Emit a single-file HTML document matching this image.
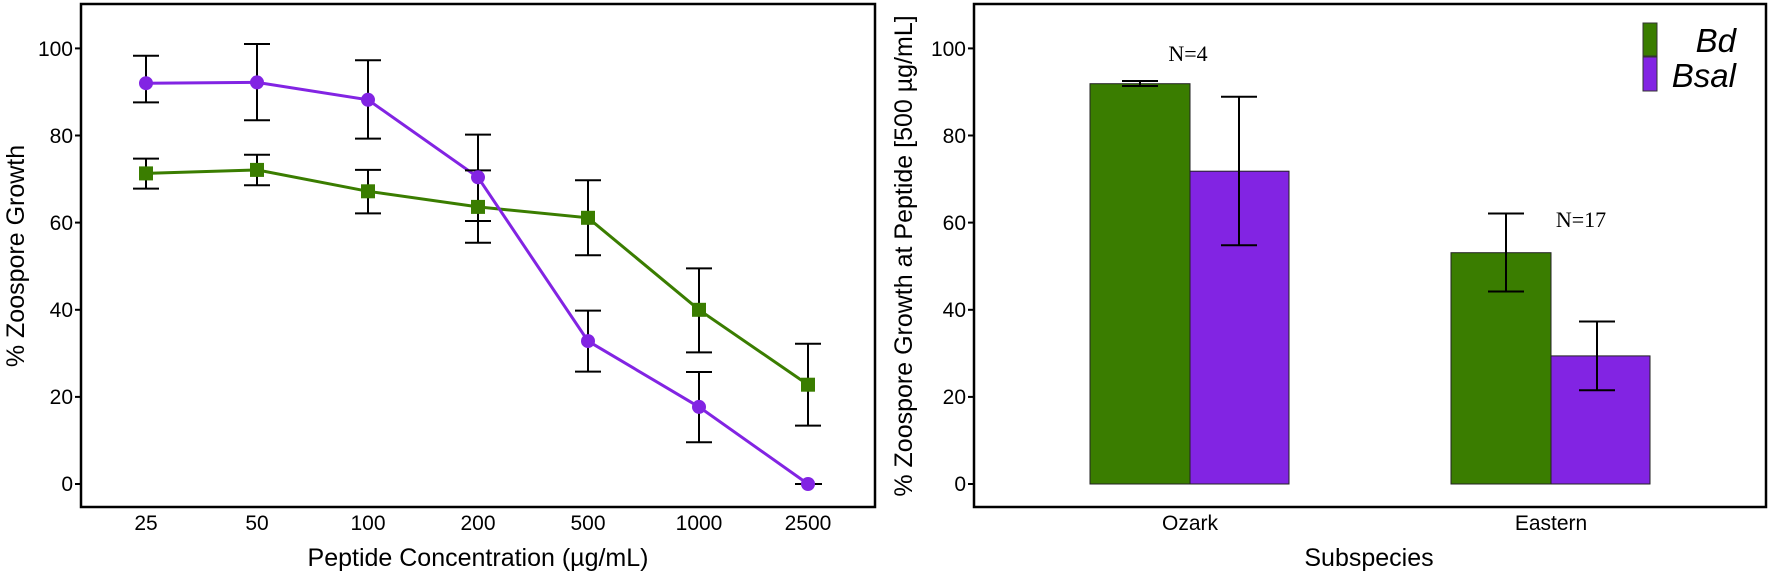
<!DOCTYPE html>
<html><head><meta charset="utf-8"><style>body{margin:0;background:#fff}svg{display:block}</style></head><body>
<svg width="1769" height="574" xmlns="http://www.w3.org/2000/svg" font-family="Liberation Sans, sans-serif">
<rect width="1769" height="574" fill="#fff"/>
<!-- LEFT PANEL -->
<rect x="81" y="4" width="794" height="503" fill="none" stroke="#000" stroke-width="2.5"/>
<g font-size="21" text-anchor="end" fill="#000">
<text x="73" y="56">100</text><text x="73" y="143">80</text><text x="73" y="230">60</text>
<text x="73" y="317">40</text><text x="73" y="404">20</text><text x="73" y="491">0</text>
</g>
<g stroke="#000" stroke-width="2"><line x1="75" y1="48.4" x2="81" y2="48.4"/><line x1="75" y1="135.5" x2="81" y2="135.5"/><line x1="75" y1="222.6" x2="81" y2="222.6"/><line x1="75" y1="309.8" x2="81" y2="309.8"/><line x1="75" y1="396.9" x2="81" y2="396.9"/><line x1="75" y1="484" x2="81" y2="484"/></g>
<g font-size="21" text-anchor="middle">
<text x="146" y="530">25</text><text x="257" y="530">50</text><text x="368" y="530">100</text><text x="478" y="530">200</text><text x="588" y="530">500</text><text x="699" y="530">1000</text><text x="808" y="530">2500</text>
</g>
<text x="478" y="566" font-size="25" text-anchor="middle">Peptide Concentration (µg/mL)</text>
<text transform="translate(24,256) rotate(-90)" font-size="25" text-anchor="middle">% Zoospore Growth</text>
<polyline fill="none" stroke="#3a7d00" stroke-width="3" points="146,173.4 257,169.9 368,191.3 478,206.9 588,217.8 699,309.8 808,384.7"/>
<polyline fill="none" stroke="#8224e3" stroke-width="3" points="146,83.2 257,82.4 368,99.8 478,177.3 588,341.1 699,406.9 808,484"/>
<g stroke="#000" stroke-width="2" fill="none">
<path d="M146,102.4V55.7M133,102.4h26M133,55.7h26"/>
<path d="M257,120.3V44M244,120.3h26M244,44h26"/>
<path d="M368,138.6V60.2M355,138.6h26M355,60.2h26"/>
<path d="M478,221V134.6M465,221h26M465,134.6h26"/>
<path d="M588,371.6V310.6M575,371.6h26M575,310.6h26"/>
<path d="M699,442.2V372M686,442.2h26M686,372h26"/>
<path d="M808,484H822M795,484h26"/>
<path d="M146,188.6V158.6M133,188.6h26M133,158.6h26"/>
<path d="M257,185.3V154.7M244,185.3h26M244,154.7h26"/>
<path d="M368,213.4V169.9M355,213.4h26M355,169.9h26"/>
<path d="M478,242.7V170.4M465,242.7h26M465,170.4h26"/>
<path d="M588,255.3V180.3M575,255.3h26M575,180.3h26"/>
<path d="M699,352.4V268.4M686,352.4h26M686,268.4h26"/>
<path d="M808,425.6V343.7M795,425.6h26M795,343.7h26"/>
</g>
<g fill="#3a7d00">
<rect x="139" y="166.4" width="14" height="14"/><rect x="250" y="162.9" width="14" height="14"/><rect x="361" y="184.3" width="14" height="14"/><rect x="471" y="199.9" width="14" height="14"/><rect x="581" y="210.8" width="14" height="14"/><rect x="692" y="302.8" width="14" height="14"/><rect x="801" y="377.7" width="14" height="14"/>
</g>
<g fill="#8224e3">
<circle cx="146" cy="83.2" r="7"/><circle cx="257" cy="82.4" r="7"/><circle cx="368" cy="99.8" r="7"/><circle cx="478" cy="177.3" r="7"/><circle cx="588" cy="341.1" r="7"/><circle cx="699" cy="406.9" r="7"/><circle cx="808" cy="484" r="7"/>
</g>
<!-- RIGHT PANEL -->
<rect x="974" y="4" width="792" height="503" fill="none" stroke="#000" stroke-width="2.5"/>
<g font-size="21" text-anchor="end">
<text x="966" y="56">100</text><text x="966" y="143">80</text><text x="966" y="230">60</text>
<text x="966" y="317">40</text><text x="966" y="404">20</text><text x="966" y="491">0</text>
</g>
<g stroke="#000" stroke-width="2"><line x1="968" y1="48.4" x2="974" y2="48.4"/><line x1="968" y1="135.5" x2="974" y2="135.5"/><line x1="968" y1="222.6" x2="974" y2="222.6"/><line x1="968" y1="309.8" x2="974" y2="309.8"/><line x1="968" y1="396.9" x2="974" y2="396.9"/><line x1="968" y1="484" x2="974" y2="484"/></g>
<text transform="translate(912,256) rotate(-90)" font-size="25" text-anchor="middle">% Zoospore Growth at Peptide [500 µg/mL]</text>
<g stroke="#222" stroke-width="1">
<rect x="1090" y="83.7" width="100" height="400.3" fill="#3a7d00"/>
<rect x="1190" y="171.2" width="99" height="312.8" fill="#8224e3"/>
<rect x="1451" y="252.7" width="100" height="231.3" fill="#3a7d00"/>
<rect x="1551" y="355.9" width="99" height="128.1" fill="#8224e3"/>
</g>
<g stroke="#000" stroke-width="2" fill="none">
<path d="M1140,86V81M1122,86h36M1122,81h36"/>
<path d="M1239,245.3V96.7M1221,245.3h36M1221,96.7h36"/>
<path d="M1506,291.5V213.5M1488,291.5h36M1488,213.5h36"/>
<path d="M1597,390.3V321.5M1579,390.3h36M1579,321.5h36"/>
</g>
<g font-family="Liberation Serif, serif" font-size="22" text-anchor="middle">
<text x="1188" y="61">N=4</text><text x="1581" y="227">N=17</text>
</g>
<g font-size="21" text-anchor="middle"><text x="1190" y="530">Ozark</text><text x="1551" y="530">Eastern</text></g>
<text x="1369" y="566" font-size="25" text-anchor="middle">Subspecies</text>
<rect x="1643" y="23" width="14" height="33" fill="#3a7d00" stroke="#333" stroke-width="1"/>
<rect x="1643" y="57" width="14" height="34" fill="#8224e3" stroke="#333" stroke-width="1"/>
<g font-size="33" font-style="italic" text-anchor="end"><text x="1736" y="52">Bd</text><text x="1736" y="87">Bsal</text></g>
</svg>
</body></html>
